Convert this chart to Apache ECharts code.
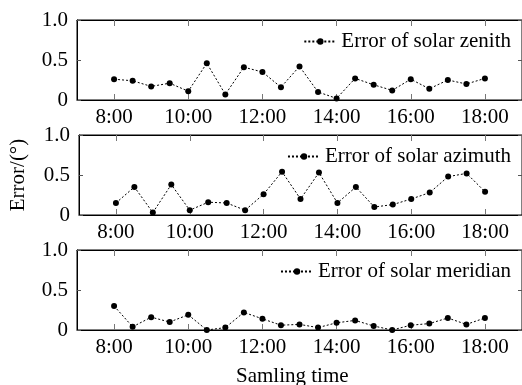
<!DOCTYPE html>
<html>
<head>
<meta charset="utf-8">
<script src="https://cdn.jsdelivr.net/npm/echarts@6/dist/echarts.min.js"></script>
<style>
  html, body { margin: 0; padding: 0; background: #fff; }
  #main { width: 522px; height: 385px; }
</style>
</head>
<body>
<div id="main"></div>
<script>
var hours = [8, 8.5, 9, 9.5, 10, 10.5, 11, 11.5, 12, 12.5, 13, 13.5, 14, 14.5, 15, 15.5, 16, 16.5, 17, 17.5, 18];
var tickHours = [8, 10, 12, 14, 16, 18];
var zenith = [0.26, 0.24, 0.17, 0.21, 0.11, 0.46, 0.07, 0.41, 0.35, 0.16, 0.42, 0.10, 0.02, 0.27, 0.19, 0.12, 0.26, 0.14, 0.25, 0.20, 0.27];
var azimuth = [0.15, 0.35, 0.03, 0.38, 0.06, 0.16, 0.15, 0.06, 0.26, 0.54, 0.20, 0.53, 0.15, 0.35, 0.10, 0.13, 0.20, 0.28, 0.48, 0.52, 0.29];
var meridian = [0.30, 0.04, 0.16, 0.10, 0.19, 0.00, 0.03, 0.22, 0.14, 0.06, 0.07, 0.03, 0.09, 0.12, 0.05, 0.00, 0.06, 0.08, 0.15, 0.07, 0.15];
var names = ['Error of solar zenith', 'Error of solar azimuth', 'Error of solar meridian'];

var font = 'Liberation Serif';
var chart = echarts.init(document.getElementById('main'));

var tops = [20, 135, 250];
var allData = [zenith, azimuth, meridian];

function pairs(vals) {
    var out = [];
    for (var i = 0; i < hours.length; i++) out.push([hours[i], vals[i]]);
    return out;
}

var grid = [], xAxis = [], yAxis = [], series = [], legend = [];
for (var g = 0; g < 3; g++) {
    // box around each panel
    grid.push({left: 77, right: 0, top: tops[g], height: 80,
        show: true, borderColor: '#000', borderWidth: 1, backgroundColor: 'transparent'});
    xAxis.push({
        type: 'value', gridIndex: g, min: 7, max: 19, position: 'bottom',
        axisLine: {show: true, onZero: false, lineStyle: {color: '#000', width: 1}},
        axisTick: {show: true, inside: true, length: 6, customValues: tickHours, lineStyle: {color: '#777'}},
        axisLabel: {
            customValues: tickHours, margin: 7, color: '#000',
            fontFamily: font, fontSize: 21,
            formatter: function (v) { return v + ':00'; }
        },
        splitLine: {show: false}
    });
    // top side, ticks only
    xAxis.push({
        type: 'value', gridIndex: g, min: 7, max: 19, position: 'top',
        axisLine: {show: true, onZero: false, lineStyle: {color: '#000', width: 1}},
        axisTick: {show: true, inside: true, length: 6, customValues: tickHours, lineStyle: {color: '#777'}},
        axisLabel: {show: false},
        splitLine: {show: false}
    });
    yAxis.push({
        type: 'value', gridIndex: g, min: 0, max: 1, interval: 0.5, position: 'left',
        axisLine: {show: true, onZero: false, lineStyle: {color: '#000', width: 1}},
        axisTick: {show: true, inside: true, length: 4, lineStyle: {color: '#555'}},
        axisLabel: {
            margin: 9, color: '#000', fontFamily: font, fontSize: 21,
            formatter: function (v) { return v === 0 ? '0' : v.toFixed(1); }
        },
        splitLine: {show: false},
        name: g === 1 ? 'Error/(°)' : '',
        nameLocation: 'middle', nameGap: 50, nameRotate: 90,
        nameTextStyle: {color: '#000', fontFamily: font, fontSize: 21}
    });
    yAxis.push({
        type: 'value', gridIndex: g, min: 0, max: 1, interval: 0.5, position: 'right',
        axisLine: {show: true, onZero: false, lineStyle: {color: '#000', width: 1}},
        axisTick: {show: true, inside: true, length: 4, lineStyle: {color: '#555'}},
        axisLabel: {show: false},
        splitLine: {show: false}
    });
    series.push({
        name: names[g], type: 'line',
        xAxisIndex: g * 2, yAxisIndex: g * 2,
        data: pairs(allData[g]),
        symbol: 'circle', symbolSize: 6,
        itemStyle: {color: '#000'},
        lineStyle: {color: '#000', width: 1, type: [2, 2]},
        animation: false
    });
    legend.push({
        data: [names[g]], right: 6, top: tops[g] + 6,
        itemWidth: 32, itemHeight: 8,
        textStyle: {color: '#000', fontFamily: font, fontSize: 21},
        selectedMode: false
    });
}

var option = {
    backgroundColor: '#fff',
    animation: false,
    textStyle: {fontFamily: font},
    grid: grid,
    xAxis: xAxis,
    yAxis: yAxis,
    legend: legend,
    series: series,
    graphic: [{
        type: 'text', left: 236, top: 366,
        style: {text: 'Samling time', fill: '#000', fontFamily: font, fontSize: 21}
    }]
};

chart.setOption(option);
</script>
</body>
</html>
